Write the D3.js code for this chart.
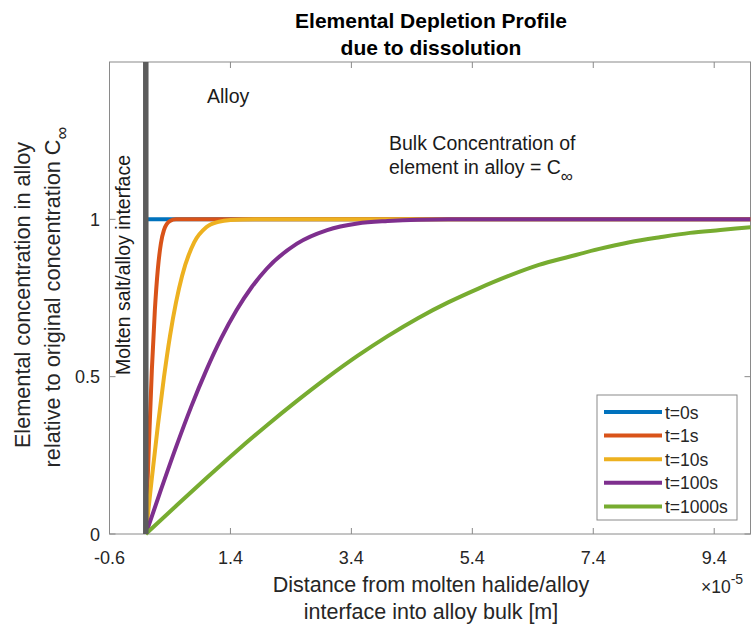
<!DOCTYPE html>
<html>
<head>
<meta charset="utf-8">
<script src="https://cdn.jsdelivr.net/npm/d3@7"></script>
<style>
  body { margin: 0; background: #fff; }
  text { font-family: "Liberation Sans", Arial, Helvetica, sans-serif; }
</style>
</head>
<body>
<script>
// values, x in units of 1e-5 m
var legendLabels = ["t=0s", "t=1s", "t=10s", "t=100s", "t=1000s"];
var colors = ["#0072BD", "#D95319", "#EDB120", "#7E2F8E", "#77AC30"];

var x0s = [0, 10];
var y0s = [1, 1];

var x1s = [0, 0.05, 0.1, 0.15, 0.2, 0.25, 0.3, 0.4, 0.5, 10];
var y1s = [0, 0.276, 0.52, 0.711, 0.843, 0.923, 0.966, 0.995, 1, 1];

var x10s = [0, 0.1, 0.2, 0.3, 0.4, 0.5, 0.6, 0.8, 1.0, 1.2, 1.4, 1.8, 10];
var y10s = [0, 0.177, 0.345, 0.497, 0.629, 0.736, 0.82, 0.927, 0.975, 0.992, 0.998, 1, 1];

var x100s = [0, 0.25, 0.5, 0.75, 1.0, 1.25, 1.5, 1.75, 2.0, 2.5, 3.0, 3.5, 4.0, 4.5, 5.0, 10];
var y100s = [0, 0.14, 0.276, 0.404, 0.52, 0.623, 0.711, 0.784, 0.843, 0.923, 0.966, 0.987, 0.995, 0.999, 1, 1];

var x1000s = [0, 0.5, 1, 1.5, 2, 2.5, 3, 3.5, 4, 4.5, 5, 5.5, 6, 6.5, 7, 7.5, 8, 8.5, 9, 9.5, 10];
var y1000s = [0, 0.089, 0.177, 0.263, 0.345, 0.423, 0.497, 0.566, 0.629, 0.686, 0.736, 0.78, 0.82, 0.855, 0.881, 0.906, 0.927, 0.943, 0.957, 0.966, 0.975];

var xTicks = [-0.6, 1.4, 3.4, 5.4, 7.4, 9.4];
var yTicks = [0, 0.5, 1];

var xs = [x0s, x1s, x10s, x100s, x1000s];
var ys = [y0s, y1s, y10s, y100s, y1000s];

var width = 751, height = 625;
var pl = 109.5, pr = 750.5, pt = 62, pb = 534;

var svg = d3.select("body").append("svg")
    .attr("width", width)
    .attr("height", height);

var x = d3.scaleLinear().domain([-0.6, 10]).range([pl, pr]);
var y = d3.scaleLinear().domain([0, 1.5]).range([pb, pt]);

var axisColor = "#8a8a8a";
var textColor = "#262626";

// axes box
svg.append("rect")
    .attr("x", pl).attr("y", pt)
    .attr("width", pr - pl).attr("height", pb - pt)
    .attr("fill", "none").attr("stroke", axisColor).attr("stroke-width", 1);

// ticks, inside, all four sides
xTicks.forEach(function(t) {
    svg.append("line").attr("x1", x(t)).attr("x2", x(t)).attr("y1", pb).attr("y2", pb - 6)
        .attr("stroke", axisColor);
    svg.append("line").attr("x1", x(t)).attr("x2", x(t)).attr("y1", pt).attr("y2", pt + 6)
        .attr("stroke", axisColor);
    svg.append("text").attr("x", x(t)).attr("y", 564)
        .attr("text-anchor", "middle").attr("font-size", 18).attr("fill", textColor)
        .text(t);
});
yTicks.forEach(function(t) {
    svg.append("line").attr("x1", pl).attr("x2", pl + 6).attr("y1", y(t)).attr("y2", y(t))
        .attr("stroke", axisColor);
    svg.append("line").attr("x1", pr).attr("x2", pr - 6).attr("y1", y(t)).attr("y2", y(t))
        .attr("stroke", axisColor);
    svg.append("text").attr("x", 100).attr("y", y(t) + 6.5)
        .attr("text-anchor", "end").attr("font-size", 18).attr("fill", textColor)
        .text(t);
});

// curves
var line = d3.line()
    .x(function(d) { return x(d[0]); })
    .y(function(d) { return y(d[1]); })
    .curve(d3.curveMonotoneX);

xs.forEach(function(xv, i) {
    var pts = xv.map(function(v, j) { return [v, ys[i][j]]; });
    svg.append("path")
        .attr("d", line(pts))
        .attr("fill", "none")
        .attr("stroke", colors[i])
        .attr("stroke-width", 4)
        .attr("stroke-linejoin", "round");
});

// interface line
svg.append("line")
    .attr("x1", x(0)).attr("x2", x(0))
    .attr("y1", pt).attr("y2", pb)
    .attr("stroke", "#5c5c5c").attr("stroke-width", 5.5);

// title
svg.append("text").attr("x", 431).attr("y", 28)
    .attr("text-anchor", "middle").attr("font-size", 21).attr("font-weight", "bold")
    .attr("fill", "#000").text("Elemental Depletion Profile");
svg.append("text").attr("x", 431).attr("y", 55)
    .attr("text-anchor", "middle").attr("font-size", 21).attr("font-weight", "bold")
    .attr("fill", "#000").text("due to dissolution");

// annotations
svg.append("text").attr("x", 207).attr("y", 103)
    .attr("font-size", 19.5).attr("fill", "#1a1a1a").text("Alloy");
svg.append("text").attr("x", 389).attr("y", 150)
    .attr("font-size", 19.5).attr("fill", "#1a1a1a").text("Bulk Concentration of");
var bulk2 = svg.append("text").attr("x", 389).attr("y", 174)
    .attr("font-size", 19.5).attr("fill", "#1a1a1a");
bulk2.append("tspan").text("element in alloy = C");
bulk2.append("tspan").attr("dy", 8).attr("font-size", 17).text("\u221E");

svg.append("text")
    .attr("transform", "translate(130,265) rotate(-90)")
    .attr("text-anchor", "middle").attr("font-size", 19.5).attr("fill", "#1a1a1a")
    .text("Molten salt/alloy interface");

// y label
svg.append("text")
    .attr("transform", "translate(30,295) rotate(-90)")
    .attr("text-anchor", "middle").attr("font-size", 21.7).attr("fill", textColor)
    .text("Elemental concentration in alloy");
var yl2 = svg.append("text")
    .attr("transform", "translate(60,297) rotate(-90)")
    .attr("text-anchor", "middle").attr("font-size", 21.7).attr("fill", textColor);
yl2.append("tspan").text("relative to original concentration C");
yl2.append("tspan").attr("dy", 8).attr("font-size", 18).text("\u221E");

// x label
svg.append("text").attr("x", 431).attr("y", 592)
    .attr("text-anchor", "middle").attr("font-size", 21.5).attr("fill", textColor)
    .text("Distance from molten halide/alloy");
svg.append("text").attr("x", 431).attr("y", 619)
    .attr("text-anchor", "middle").attr("font-size", 21.5).attr("fill", textColor)
    .text("interface into alloy bulk [m]");

var exp = svg.append("text").attr("x", 701).attr("y", 593)
    .attr("font-size", 17.5).attr("fill", textColor);
exp.append("tspan").text("\u00D710");
exp.append("tspan").attr("dy", -9).attr("font-size", 14).text("-5");

// legend
var lg = svg.append("g").attr("transform", "translate(597,395)");
lg.append("rect").attr("width", 140).attr("height", 125)
    .attr("fill", "#fff").attr("stroke", axisColor);
legendLabels.forEach(function(lab, i) {
    var yy = 17 + i * 23.6;
    lg.append("line").attr("x1", 7).attr("x2", 65).attr("y1", yy).attr("y2", yy)
        .attr("stroke", colors[i]).attr("stroke-width", 4);
    lg.append("text").attr("x", 68).attr("y", yy + 6.5)
        .attr("font-size", 17.5).attr("fill", textColor).text(lab);
});
</script>
</body>
</html>
